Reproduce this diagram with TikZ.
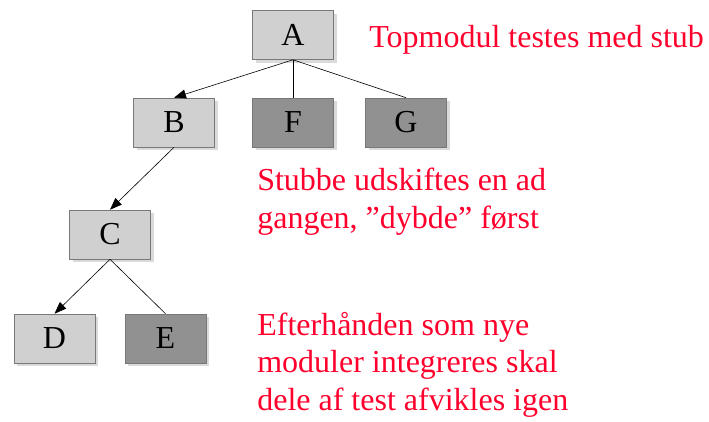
\documentclass[tikz,border=0pt]{standalone}
\usepackage{fontspec}
\setmainfont{Liberation Serif}
\usetikzlibrary{arrows.meta,shadows}

\definecolor{stubred}{RGB}{255,0,45}
\definecolor{modlight}{RGB}{208,208,208}
\definecolor{moddark}{RGB}{145,145,145}
\definecolor{modedge}{RGB}{120,120,120}
\definecolor{modshadow}{RGB}{218,218,218}

\tikzset{
  module/.style={draw=modedge,line width=0.6pt,minimum width=81pt,minimum height=49pt,inner sep=0pt,
    font=\fontsize{32}{37}\selectfont,
    drop shadow={shadow xshift=3pt,shadow yshift=-3pt,fill=modshadow,opacity=1}},
  tested/.style={module,fill=modlight},
  stub/.style={module,fill=moddark},
  note/.style={text=stubred,align=left,inner sep=0pt,anchor=base west,
    font=\fontsize{32}{37.5}\selectfont}
}

\begin{document}
\begin{tikzpicture}[x=1pt,y=-1pt,>={Triangle[length=12pt,width=9pt]},line width=0.6pt]
\useasboundingbox (0,0) rectangle (709,421);

\node[tested]   (A) at (293,35)      {A};
\node[tested]   (B) at (174,122.5)   {B};
\node[stub]     (F) at (293,122.5)   {F};
\node[stub]     (G) at (406,122.5)   {G};
\node[tested]   (C) at (110,234.5)   {C};
\node[tested]   (D) at (54.5,338.5)  {D};
\node[stub]     (E) at (165.5,338.5) {E};

% base of a note is the baseline of its last line
\node[note] (topnote)  at (369,47)  {Topmodul testes med stub};
\node[note] (stubnote) at (257,228) {Stubbe udskiftes en ad\\gangen, ”dybde” først};
\node[note] (intnote)  at (257,410) {Efterhånden som nye\\moduler integreres skal\\dele af test afvikles igen};

\draw[->] (A.south) -- (B.north);
\draw     (A.south) -- (F.north);
\draw     (A.south) -- (G.north);
\draw[->] (B.south) -- (C.north);
\draw[->] (C.south) -- (D.north);
\draw     (C.south) -- (E.north);

\end{tikzpicture}
\end{document}
